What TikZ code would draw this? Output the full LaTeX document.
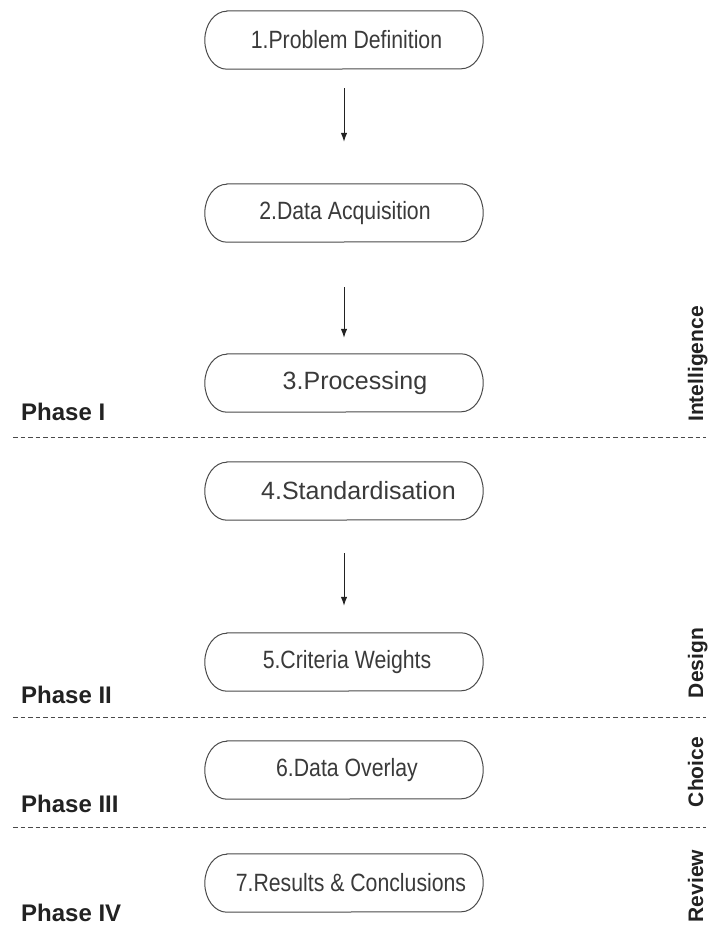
\documentclass[tikz,border=0pt]{standalone}
\usepackage{fontspec}
\setmainfont{Liberation Sans}
\newfontfamily\narrowfont[FakeStretch=0.85]{Liberation Sans}
\usetikzlibrary{arrows.meta}
\definecolor{inkbox}{HTML}{4A4A4A}
\definecolor{inktext}{HTML}{3A3A3A}
\definecolor{inkhead}{HTML}{222222}
\tikzset{
  stagebox/.style={minimum width=278pt, minimum height=58pt, inner sep=0pt, draw=none},
  stagetext/.style={text=inktext, inner sep=0pt, font=\narrowfont\fontsize{25}{30}\selectfont},
  widetext/.style={text=inktext, inner sep=0pt, font=\fontsize{25}{30}\selectfont},
  phaselabel/.style={text=inkhead, inner sep=0pt, anchor=base west, font=\bfseries\fontsize{24}{28}\selectfont},
  sidelabel/.style={text=inkhead, inner sep=0pt, anchor=base, rotate=90, font=\bfseries\fontsize{21}{25}\selectfont},
  flow/.style={draw=inkhead, line width=1pt, -{Latex[length=9pt,width=6.5pt]}},
  divider/.style={draw=inkbox, line width=1pt, dash pattern=on 4.5pt off 3pt},
  outline/.style={draw=inkbox, line width=1pt}
}
\newcommand{\pillshape}[1]{%
  \draw[outline] ([xshift=22pt]#1.north west) -- ([xshift=-22pt]#1.north east)
    arc[start angle=90, end angle=-90, x radius=22pt, y radius=29pt]
    -- ([xshift=22pt]#1.south west)
    arc[start angle=270, end angle=90, x radius=22pt, y radius=29pt] -- cycle;}
\begin{document}
\begin{tikzpicture}[x=1pt, y=-1pt]
\useasboundingbox (0,0) rectangle (710,933);

% stage boxes
\node[stagebox] (b1) at (344,40)  {};
\node[stagebox] (b2) at (344,213) {};
\node[stagebox] (b3) at (344,383) {};
\node[stagebox] (b4) at (344,491) {};
\node[stagebox] (b5) at (344,662) {};
\node[stagebox] (b6) at (344,770) {};
\node[stagebox] (b7) at (344,883) {};
\foreach \n in {b1,b2,b3,b4,b5,b6,b7} {\pillshape{\n}}

% stage captions
\node[stagetext] (t1) at ([xshift=2.5pt]b1.center) {1.Problem Definition};
\node[stagetext] (t2) at ([xshift=1pt]b2.center)   {2.Data Acquisition};
\node[widetext]  (t3) at ([xshift=11pt]b3.center)  {3.Processing};
\node[widetext]  (t4) at ([xshift=14.5pt]b4.center) {4.Standardisation};
\node[stagetext] (t5) at ([xshift=3pt]b5.center)   {5.Criteria Weights};
\node[stagetext] (t6) at ([xshift=3pt]b6.center)   {6.Data Overlay};
\node[stagetext] (t7) at ([xshift=7pt]b7.center)   {7.Results \& Conclusions};

% flow arrows
\draw[flow, shorten <=19pt, shorten >=42pt] (b1) -- (b2);
\draw[flow, shorten <=45pt, shorten >=16pt] (b2) -- (b3);
\draw[flow, shorten <=33pt, shorten >=27pt] (b4) -- (b5);

% phase dividers
\draw[divider] (13,437) -- (706,437);
\draw[divider] (13,717) -- (706,717);
\draw[divider] (13,827) -- (706,827);

% phase names
\node[phaselabel] (p1) at (21,420) {Phase I};
\node[phaselabel] (p2) at (21,703) {Phase II};
\node[phaselabel] (p3) at (21,812) {Phase III};
\node[phaselabel] (p4) at (21,921) {Phase IV};

% decision stages
\node[sidelabel] (s1) at (703,364) {Intelligence};
\node[sidelabel] (s2) at (703,663) {Design};
\node[sidelabel] (s3) at (703,772) {Choice};
\node[sidelabel] (s4) at (703,886) {Review};
\end{tikzpicture}
\end{document}
